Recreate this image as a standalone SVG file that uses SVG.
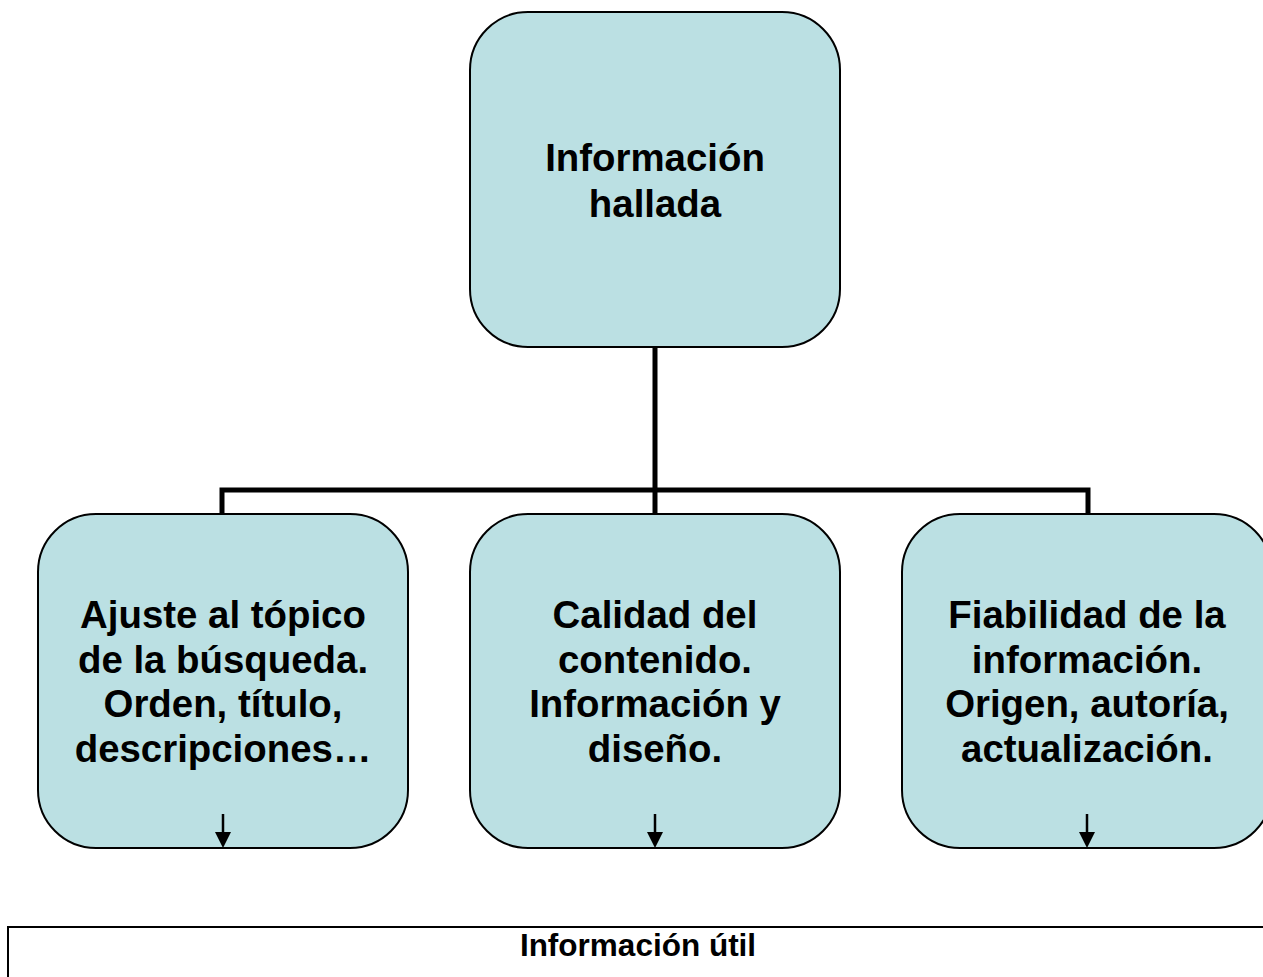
<svg xmlns="http://www.w3.org/2000/svg" width="1263" height="977" viewBox="0 0 1263 977">
<style>
.box{fill:#BBE0E3;stroke:#000;stroke-width:2}
.t{font-family:"Liberation Sans",Arial,sans-serif;font-weight:bold;font-size:38.4px;text-anchor:middle;fill:#000}
.c{fill:none;stroke:#000;stroke-width:5}
.a{stroke:#000;stroke-width:2.5;fill:none}
</style>
<g id="connectors">
<polyline class="c" points="655,347 655,490"/>
<polyline class="c" points="222,514 222,490 1088,490 1088,514"/>
<line class="c" x1="655" y1="490" x2="655" y2="514"/>
</g>
<g id="n0">
<rect class="box" x="470" y="12" width="370" height="335" rx="58" ry="58"/>
<text class="t" x="655" y="171">Información</text>
<text class="t" x="655" y="217">hallada</text>
</g>
<g id="n1">
<rect class="box" x="38" y="514" width="370" height="334" rx="58" ry="58"/>
<text class="t" x="223" y="628">Ajuste al tópico</text>
<text class="t" x="223" y="673">de la búsqueda.</text>
<text class="t" x="223" y="717">Orden, título,</text>
<text class="t" x="223" y="762">descripciones…</text>
</g>
<g id="n2">
<rect class="box" x="470" y="514" width="370" height="334" rx="58" ry="58"/>
<text class="t" x="655" y="628">Calidad del</text>
<text class="t" x="655" y="673">contenido.</text>
<text class="t" x="655" y="717">Información y</text>
<text class="t" x="655" y="762">diseño.</text>
</g>
<g id="n3">
<rect class="box" x="902" y="514" width="370" height="334" rx="58" ry="58"/>
<text class="t" x="1087" y="628">Fiabilidad de la</text>
<text class="t" x="1087" y="673">información.</text>
<text class="t" x="1087" y="717">Origen, autoría,</text>
<text class="t" x="1087" y="762">actualización.</text>
</g>
<g id="arrows">
<g fill="#000">
<line class="a" x1="223" y1="814" x2="223" y2="834"/>
<path d="M215,832 L231,832 L223,848 Z"/>
<line class="a" x1="655" y1="814" x2="655" y2="834"/>
<path d="M647,832 L663,832 L655,848 Z"/>
<line class="a" x1="1087" y1="814" x2="1087" y2="834"/>
<path d="M1079,832 L1095,832 L1087,848 Z"/>
</g>
</g>
<g id="n4">
<rect x="8" y="927" width="1270" height="60" fill="#fff" stroke="#000" stroke-width="2"/>
<text x="638" y="956" font-family="Liberation Sans,Arial,sans-serif" font-weight="bold" font-size="31.5" text-anchor="middle">Información útil</text>
</g>
</svg>
